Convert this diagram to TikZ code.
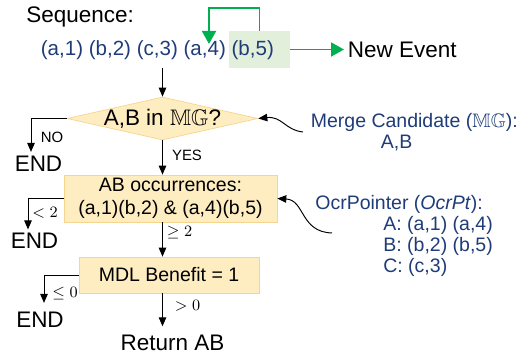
\documentclass[tikz,border=0pt]{standalone}
\usepackage{amssymb}
\usepackage[no-math]{fontspec}
\setmainfont{Liberation Sans}
\definecolor{seqblue}{HTML}{1F3C78}
\definecolor{loopgreen}{HTML}{00B050}
\definecolor{hlgreen}{HTML}{E2EFDA}
\definecolor{boxfill}{HTML}{FFEDC2}
\definecolor{boxedge}{HTML}{F6D58E}
\usetikzlibrary{arrows.meta, shapes.geometric, positioning}

\begin{document}
\begin{tikzpicture}[x=0.02cm, y=-0.02cm,
every node/.append style={inner sep=0pt},
bigtext/.style={font=\fontsize{12.8}{15}\selectfont},
boxtext/.style={font=\fontsize{11.1}{12.8}\selectfont},
note/.style={text=seqblue, align=left, anchor=north west,
	font=\fontsize{11.1}{11.9}\selectfont},
tag/.style={font=\fontsize{8.5}{10}\selectfont},
mathtag/.style={font=\fontsize{8.8}{10}\selectfont},
decision/.style={shape=diamond, fill=boxfill, draw=boxedge, line width=0.4pt,
	minimum width=3.82cm, minimum height=0.86cm},
stepbox/.style={shape=rectangle, fill=boxfill, draw=boxedge, line width=0.4pt,
	align=center},
flow/.style={-{Triangle[length=0.18cm, width=0.15cm]}, line width=0.55pt},
greenarrow/.style={-{Triangle[length=0.26cm, width=0.28cm]}, draw=loopgreen,
	line width=1.1pt}]

\useasboundingbox (0,0) rectangle (527,357);

% sequence header
\node[bigtext, anchor=base west] (seqlabel) at (26,23) {Sequence:};
\node[fill=hlgreen, minimum width=1.22cm, minimum height=0.74cm] (hl) at (259.5,49.5) {};
\node[text=seqblue, anchor=base west, font=\fontsize{11.7}{14}\selectfont] (seq) at (40.5,56)
	{(a,1) (b,2) (c,3) (a,4) (b,5)};
\node[bigtext, anchor=west, inner sep=0.07cm] (newev) at (344,49.5) {New Event};
\coordinate (loopend) at (209,44);
\coordinate (spine) at (162.5,0);

% flow chart
\node[decision, label={[bigtext]center:A,B in $\mathbb{MG}$?}] (dia) at (162.5,118.5) {};
\node[stepbox, boxtext, minimum width=4.26cm, minimum height=0.94cm] (occ) at (170.5,198.5)
	{AB occurrences:\\(a,1)(b,2) \& (a,4)(b,5)};
\node[stepbox, boxtext, minimum width=3.6cm, minimum height=0.72cm] (mdl) at (169,275)
	{MDL Benefit = 1};

\node[bigtext] (end1) at (38.5,164) {END};
\node[bigtext] (end2) at (34.5,240.5) {END};
\node[bigtext] (end3) at (40,320) {END};
\node[bigtext] (ret) at (172.5,342.5) {Return AB};

\node[tag] (lno) at (52,137) {NO};
\node[tag] (lyes) at (187,155) {YES};
\node[mathtag] (llt) at (45,213) {$<2$};
\node[mathtag] (lge) at (179.5,233) {$\geq 2$};
\node[mathtag] (lle) at (65,294) {$\leq 0$};
\node[mathtag] (lgt) at (187.5,306) {$>0$};

% notes on the right
\node[note] (mgnote) at (310.5,113) {Merge Candidate ($\mathbb{MG}$):\\\hspace*{1.4cm}A,B};
\node[note] (ocrnote) at (315,195) {OcrPointer (\textit{OcrPt}):\\
	\hspace*{1.36cm}A: (a,1) (a,4)\\
	\hspace*{1.36cm}B: (b,2) (b,5)\\
	\hspace*{1.36cm}C: (c,3)};
\coordinate (mgtail) at (303,132);
\coordinate (ocrtail) at (332,233);

% arrow tips above the end nodes
\path (end1.north) ++(-7.5,-4) coordinate (end1tip);
\path (end2.north) ++(-6.5,-3) coordinate (end2tip);
\path (end3.north) ++(4,-9) coordinate (end3tip);
\path (ret.north) ++(0,-8) coordinate (rettip);

\draw[greenarrow] (hl.north) -- ++(0,-23) -| (loopend);
\draw[greenarrow] (hl.east) -- (newev.west);

\draw[flow] (hl.south -| spine) -- (dia.north);
\draw[flow] (dia.south) -- (occ.north -| spine);
\draw[flow] (occ.south -| spine) -- (mdl.north -| spine);
\draw[flow] (mdl.south -| spine) -- (rettip -| spine);

\draw[flow] (dia.west) -| (end1tip);
\draw[flow] (occ.west) -| (end2tip);
\draw[flow] (mdl.west) -| (end3tip);

\draw[flow] (mgtail) .. controls (285,130) and (282,116) .. (dia.east);
\draw[flow] (ocrtail) .. controls (300,232) and (305,200) .. (occ.east);
\end{tikzpicture}
\end{document}
